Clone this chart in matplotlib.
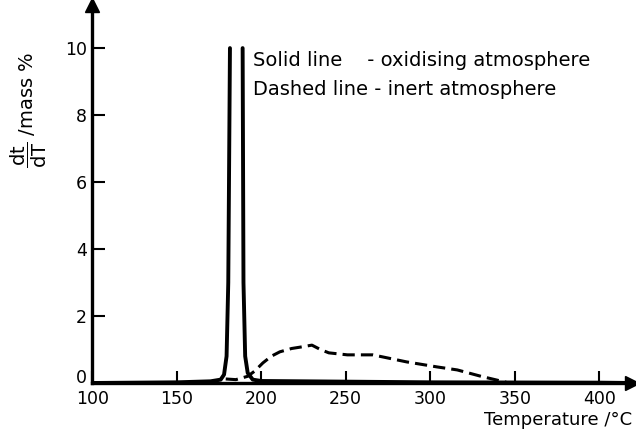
import numpy as np
import matplotlib.pyplot as plt
from matplotlib.transforms import ScaledTranslation

# solid line - oxidising atmosphere (peak runs off scale, drawn as two strokes)
solid_T = [100, 150, 170, 176, 178, 179.5, 180.5, 181.5, np.nan,
           189, 189.5, 190.5, 192, 195, 200, 250, 300, 400, 419]
solid_y = [0.0, 0.02, 0.05, 0.1, 0.25, 0.8, 3.0, 10.0, np.nan,
           10.0, 3.0, 0.8, 0.3, 0.1, 0.06, 0.04, 0.02, 0.01, 0.0]

# dashed line - inert atmosphere
dash_T = [179, 185, 192, 196, 201, 206, 211, 218, 223, 230, 235, 240,
          251, 266, 286, 304, 316, 330, 345]
dash_y = [0.12, 0.1, 0.2, 0.35, 0.6, 0.8, 0.93, 1.03, 1.07, 1.13, 1.0, 0.9,
          0.84, 0.84, 0.63, 0.48, 0.39, 0.2, 0.02]

xticks = [100, 150, 200, 250, 300, 350, 400]
yticks = [0, 2, 4, 6, 8, 10]

fig = plt.figure(figsize=(6.36, 4.38), dpi=100)
ax = fig.add_axes([0.145, 0.1256, 0.849, 0.864])

ax.plot(solid_T, solid_y, color='black', lw=2.8, solid_capstyle='round')
ax.plot(dash_T, dash_y, color='black', lw=2.2, linestyle=(0, (4, 2)))

ax.set_xlim(100, 419.5)
ax.set_ylim(0, 11.3)
ax.set_xticks(xticks)
ax.set_yticks(yticks)
ax.tick_params(direction='in', length=9, width=1.5, labelsize=12.5)
ax.tick_params(axis='x', pad=5)
ax.tick_params(axis='y', pad=4)

# lift the "0" label a little so it clears "100", as in the original
fig.canvas.draw()
lab0 = ax.get_yticklabels()[0]
lab0.set_transform(lab0.get_transform() + ScaledTranslation(0, 5 / 72, fig.dpi_scale_trans))

for s in ['top', 'right']:
    ax.spines[s].set_visible(False)
for s in ['left', 'bottom']:
    ax.spines[s].set_linewidth(2.4)

# arrow heads on the axes
ax.plot(1, 0, '>', color='black', ms=10, transform=ax.transAxes, clip_on=False)
ax.plot(0, 1, '^', color='black', ms=10, transform=ax.transAxes, clip_on=False)

ax.text(195.3, 9.64, 'Solid line    - oxidising atmosphere', fontsize=14, va='center')
ax.text(195.3, 8.75, 'Dashed line - inert atmosphere', fontsize=14, va='center')

fig.text(0.994, 0.04, 'Temperature /°C', fontsize=13, ha='right', va='center')
fig.text(0.045, 0.75, r'$\dfrac{\mathrm{dt}}{\mathrm{dT}}$ /mass %', fontsize=14,
         rotation=90, ha='center', va='center')

fig.savefig('out.png', dpi=100)
